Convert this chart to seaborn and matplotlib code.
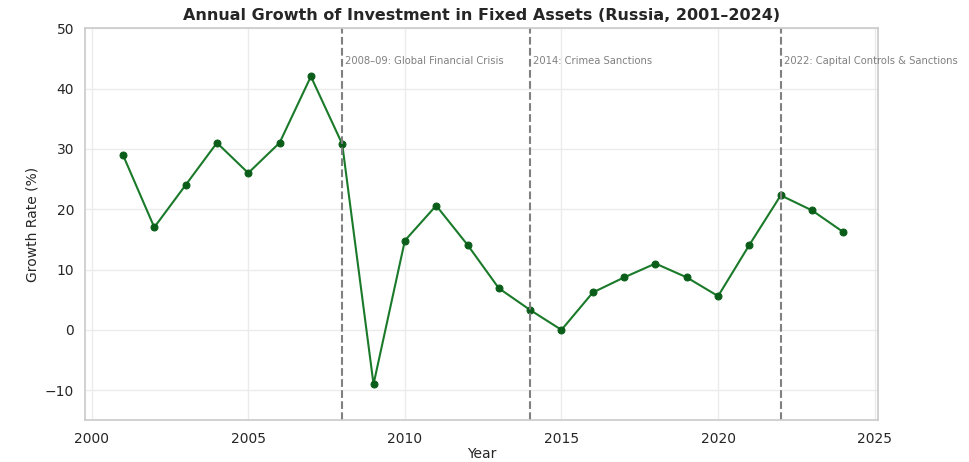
import matplotlib
matplotlib.use("Agg")
import matplotlib.pyplot as plt
import pandas as pd
import seaborn as sns

years = list(range(2001, 2025))
growth = [29.0, 17.0, 24.0, 31.0, 26.0, 31.0, 42.0, 30.8, -9.0, 14.8, 20.6, 14.1,
          6.9, 3.3, 0.0, 6.2, 8.7, 11.0, 8.7, 5.6, 14.1, 22.3, 19.8, 16.2]
event_years = [2008, 2014, 2022]
event_labels = ["2008–09: Global Financial Crisis", "2014: Crimea Sanctions",
                "2022: Capital Controls & Sanctions"]

df = pd.DataFrame({"Year": years, "Growth": growth})

sns.set_theme(style="whitegrid", rc={"grid.color": "#ebebeb"})
fig = plt.figure(figsize=(9.7, 4.62), dpi=100)
ax = fig.add_axes([0.088, 0.09, 0.817, 0.849])
sns.lineplot(data=df, x="Year", y="Growth", color="#1a7a2a", marker="o",
             markersize=5, markerfacecolor="#0b5e1a", markeredgecolor="#0b5e1a",
             linewidth=1.5, ax=ax)
for yr, lab in zip(event_years, event_labels):
    ax.axvline(yr, color="gray", linestyle="--", linewidth=1.5)
    ax.text(yr + 0.1, 44.5, lab, fontsize=7.2, color="gray", va="center")

ax.set_xlim(1999.8, 2025.1)
ax.set_ylim(-15, 50)
ax.set_xlabel("Year", fontsize=10, labelpad=1)
ax.set_ylabel("Growth Rate (%)", fontsize=10)
ax.set_title("Annual Growth of Investment in Fixed Assets (Russia, 2001–2024)",
             fontsize=11.5, fontweight="bold")
ax.tick_params(labelsize=10, pad=2)
for s in ax.spines.values():
    s.set_color("#cccccc")
fig.savefig("out.png", dpi=100)
